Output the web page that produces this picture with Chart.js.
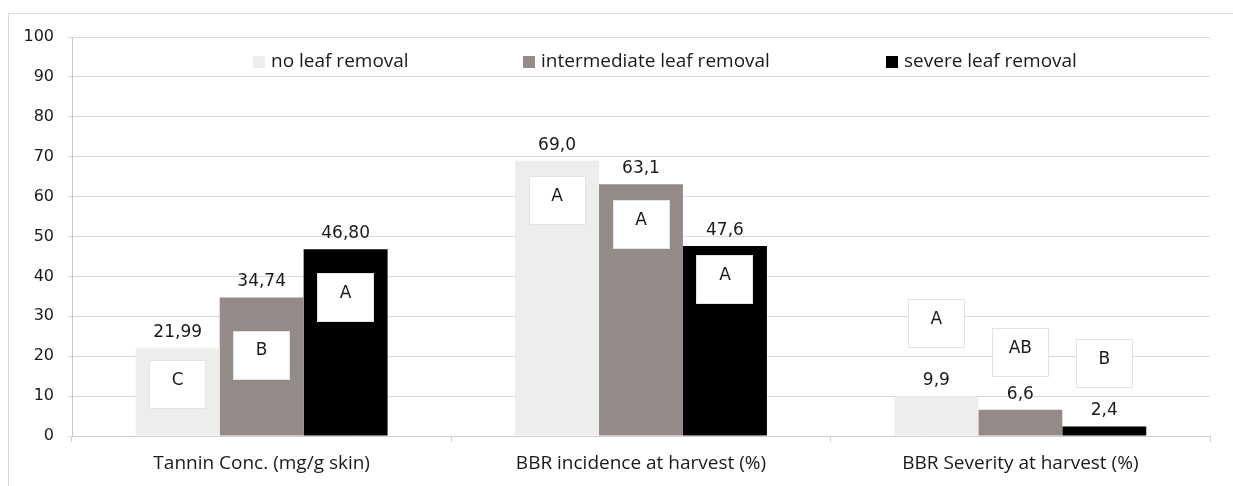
<!DOCTYPE html>
<html>
<head>
<meta charset="utf-8">
<script src="https://cdn.jsdelivr.net/npm/chart.js@4"></script>
<style>
  html, body { margin: 0; padding: 0; background: #fff; }
  #wrap { width: 1233px; height: 486px; position: relative; }
</style>
</head>
<body>
<div id="wrap"><canvas id="myChart" width="1233" height="486"></canvas></div>
<script>
// data
const categories = ['Tannin Conc. (mg/g skin)', 'BBR incidence at harvest (%)', 'BBR Severity at harvest (%)']
const seriesNames = ['no leaf removal', 'intermediate leaf removal', 'severe leaf removal']
const noRemoval = [21.99, 69.0, 9.9]
const intermediateRemoval = [34.74, 63.1, 6.6]
const severeRemoval = [46.80, 47.6, 2.4]
const decimals = [2, 1, 1]
// significance letters and the y value where each box sits
const lettersNo = ['C', 'A', 'A']
const lettersIntermediate = ['B', 'A', 'AB']
const lettersSevere = ['A', 'A', 'B']
const letterAtNo = [12.9, 59.1, 28.3]
const letterAtIntermediate = [20.3, 53.1, 20.9]
const letterAtSevere = [34.8, 39.3, 18.1]
const yTicks = [0, 10, 20, 30, 40, 50, 60, 70, 80, 90, 100]

const colors = ['#EDEDEB', '#948B89', '#000000']
const letters = [lettersNo, lettersIntermediate, lettersSevere]
const letterAt = [letterAtNo, letterAtIntermediate, letterAtSevere]

const frame = {
  id: 'frame',
  beforeDraw(chart) {
    const c = chart.ctx
    c.save()
    c.strokeStyle = '#d9d9d9'
    c.lineWidth = 1
    c.beginPath()
    c.moveTo(8.5, 486)
    c.lineTo(8.5, 13.5)
    c.lineTo(1233, 13.5)
    c.stroke()
    c.restore()
  }
}

const extras = {
  id: 'extras',
  afterDatasetsDraw(chart) {
    const c = chart.ctx
    const y = chart.scales.y
    c.save()
    chart.data.datasets.forEach((ds, i) => {
      chart.getDatasetMeta(i).data.forEach((bar, j) => {
        // value label
        c.fillStyle = '#1a1a1a'
        c.font = '17px "DejaVu Sans"'
        c.textAlign = 'center'
        c.textBaseline = 'bottom'
        c.fillText(ds.data[j].toFixed(decimals[j]).replace('.', ','), bar.x, bar.y - 7)
        // letter box
        const cy = y.getPixelForValue(letterAt[i][j])
        const w = 57, h = 49
        const bx = Math.round(bar.x - w / 2), by = Math.round(cy - h / 2)
        c.fillStyle = '#fff'
        c.fillRect(bx, by, w, h)
        c.strokeStyle = '#e3e3e3'
        c.lineWidth = 1
        c.strokeRect(bx + 0.5, by + 0.5, w - 1, h - 1)
        c.fillStyle = '#1a1a1a'
        c.textBaseline = 'middle'
        c.font = '17px "DejaVu Sans"'
        c.fillText(letters[i][j], bar.x, cy - 4)
      })
    })
    // legend
    const lx = [253, 523, 886]
    c.font = '19px "Open Sans"'
    c.textAlign = 'left'
    c.textBaseline = 'middle'
    seriesNames.forEach((n, i) => {
      c.fillStyle = colors[i]
      c.fillRect(lx[i], 56, 12, 12)
      c.fillStyle = '#1a1a1a'
      c.fillText(n, lx[i] + 18, 62)
    })
    c.restore()
  }
}

var ctx = document.getElementById('myChart').getContext('2d')
const myChart = new Chart(ctx, {
  type: 'bar',
  data: {
    labels: categories,
    datasets: [
      { label: seriesNames[0], data: noRemoval, backgroundColor: colors[0] },
      { label: seriesNames[1], data: intermediateRemoval, backgroundColor: colors[1] },
      { label: seriesNames[2], data: severeRemoval, backgroundColor: colors[2] }
    ]
  },
  options: {
    responsive: false,
    animation: false,
    layout: { padding: { left: 0, right: 23, top: 37, bottom: 0 } },
    datasets: { bar: { categoryPercentage: 0.664, barPercentage: 1 } },
    plugins: { legend: { display: false }, tooltip: { enabled: false } },
    scales: {
      x: {
        grid: { drawOnChartArea: false, drawTicks: true, tickLength: 6, color: '#d0d0d0', offset: true },
        border: { color: '#d0d0d0' },
        ticks: { color: '#1a1a1a', font: { family: 'Open Sans', size: 19 }, padding: 10 },
        afterFit(s) { s.height = 50 }
      },
      y: {
        min: 0,
        max: 100,
        afterBuildTicks(s) { s.ticks = yTicks.map(v => ({ value: v })) },
        grid: { color: '#dcdcdc', tickLength: 4 },
        border: { color: '#c8c8c8' },
        ticks: { color: '#1a1a1a', font: { family: 'DejaVu Sans', size: 16 }, padding: 14 },
        afterFit(s) { s.width = 72 }
      }
    }
  },
  plugins: [frame, extras]
})
</script>
</body>
</html>
